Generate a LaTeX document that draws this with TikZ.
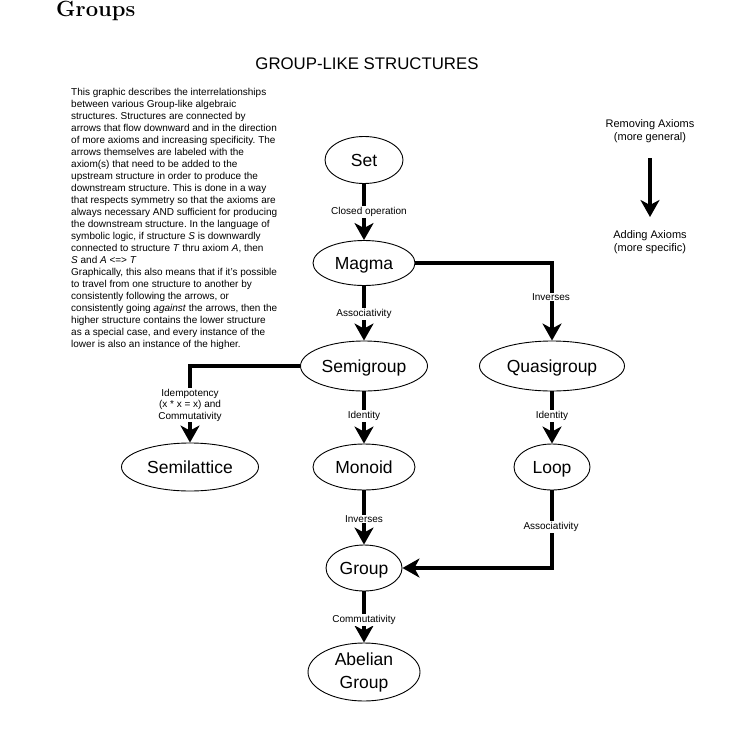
\documentclass[tikz,border=0pt]{standalone}
\usepackage{fontspec}
\setsansfont{Liberation Sans}
\usetikzlibrary{shapes.geometric,arrows.meta}
\begin{document}
\begin{tikzpicture}[x=1pt,y=-1pt,
  struct/.style={draw, ellipse, line width=0.9pt, inner sep=0pt,
    font=\sffamily\fontsize{17.5}{23}\selectfont, align=center},
  single/.style={struct, text height=14.4pt, text depth=2pt},
  conn/.style={line width=4pt, -{Stealth[length=17pt,width=19pt,inset=5pt]}},
  lbl/.style={fill=white, inner sep=1pt, font=\sffamily\fontsize{10}{11.5}\selectfont\frenchspacing, align=center},
  legend/.style={inner sep=0pt, font=\sffamily\fontsize{11}{13}\selectfont, align=center},
]
\useasboundingbox (0,0) rectangle (730,736);

% headings
\node[anchor=base west, inner sep=0pt, font=\rmfamily\bfseries\fontsize{22}{25}\selectfont] (page) at (56,16.7) {Groups};
\node[anchor=base, inner sep=0pt, font=\sffamily\fontsize{16.8}{20}\selectfont] (title) at (367,69) {GROUP-LIKE STRUCTURES};

% description
\node[anchor=north west, inner sep=0pt, align=left, font=\sffamily\fontsize{10}{12}\selectfont\frenchspacing] (desc) at (71,88.4) {%
This graphic describes the interrelationships\\
between various Group-like algebraic\\
structures. Structures are connected by\\
arrows that flow downward and in the direction\\
of more axioms and increasing specificity. The\\
arrows themselves are labeled with the\\
axiom(s) that need to be added to the\\
upstream structure in order to produce the\\
downstream structure. This is done in a way\\
that respects symmetry so that the axioms are\\
always necessary AND sufficient for producing\\
the downstream structure. In the language of\\
symbolic logic, if structure \textit{S} is downwardly\\
connected to structure \textit{T} thru axiom \textit{A}, then\\
\textit{S} and \textit{A} <=> \textit{T}\\
Graphically, this also means that if it's possible\\
to travel from one structure to another by\\
consistently following the arrows, or\\
consistently going \textit{against} the arrows, then the\\
higher structure contains the lower structure\\
as a special case, and every instance of the\\
lower is also an instance of the higher.};

% legend
\node[legend] (remove) at (650,131) {Removing Axioms\\(more general)};
\node[legend] (add) at (650,242.5) {Adding Axioms\\(more specific)};
\coordinate (legtop) at (650,158);
\coordinate (legbot) at (650,217);
\draw[conn] (legtop) -- (legbot);

% structures
\node[single, minimum width=78pt, minimum height=47pt] (set) at (364,160) {Set};
\node[single, minimum width=102pt, minimum height=45pt] (magma) at (364,263) {Magma};
\node[single, minimum width=127pt, minimum height=50pt] (semigroup) at (364,366) {Semigroup};
\node[single, minimum width=145pt, minimum height=50pt] (quasi) at (552,366) {Quasigroup};
\node[single, minimum width=137pt, minimum height=48pt] (semilattice) at (190,467) {Semilattice};
\node[single, minimum width=102pt, minimum height=46pt] (monoid) at (364,467) {Monoid};
\node[single, minimum width=76pt, minimum height=46pt] (loop) at (552,467) {Loop};
\node[single, minimum width=76pt, minimum height=46pt] (group) at (364,568) {Group};
\node[struct, minimum width=112pt, minimum height=58pt] (abelian) at (364,672) {Abelian\\Group};

% connectors
\draw[conn] (set.south) -- (magma.north);
\draw[conn] (magma.south) -- (semigroup.north);
\draw[conn] (magma.east) -| (quasi.north);
\draw[conn] (semigroup.west) -| (semilattice.north);
\draw[conn] (semigroup.south) -- (monoid.north);
\draw[conn] (quasi.south) -- (loop.north);
\draw[conn] (monoid.south) -- (group.north);
\draw[conn] (loop.south) |- (group.east);
\draw[conn] (group.south) -- (abelian.north);

% labels
\node[lbl] (lclosed) at (369,212) {Closed operation};
\node[lbl] (lassoc) at (364,314) {Associativity};
\node[lbl] (linvq) at (551,297) {Inverses};
\node[lbl] (lidem) at (190,405) {Idempotency\\(x * x = x) and\\Commutativity};
\node[lbl] (lidm) at (364,416) {Identity};
\node[lbl] (lidl) at (552,416) {Identity};
\node[lbl] (linvg) at (364,519) {Inverses};
\node[lbl] (lassocl) at (551,527) {Associativity};
\node[lbl] (lcomm) at (364,620) {Commutativity};
\end{tikzpicture}
\end{document}
